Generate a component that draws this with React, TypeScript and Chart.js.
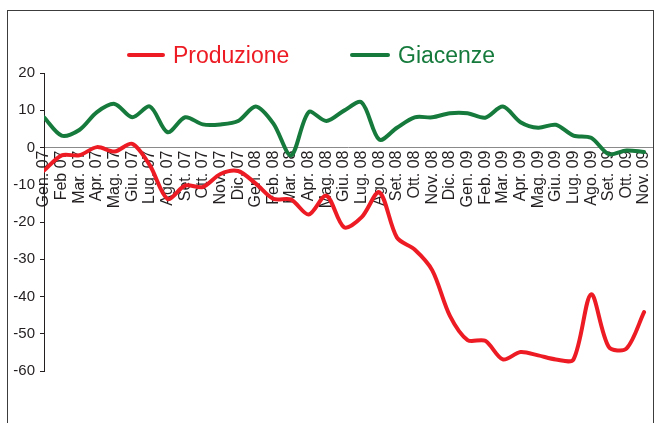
import { useEffect, useRef } from "react";
import { Chart, registerables } from "chart.js";

Chart.register(...registerables);

const months = [
  "Gen. 07", "Feb 07", "Mar. 07", "Apr. 07", "Mag. 07", "Giu. 07", "Lug. 07", "Ago. 07",
  "Set. 07", "Ott. 07", "Nov. 07", "Dic. 07", "Gen. 08", "Feb. 08", "Mar. 08", "Apr. 08",
  "Mag. 08", "Giu. 08", "Lug. 08", "Ago. 08", "Set. 08", "Ott. 08", "Nov. 08", "Dic. 08",
  "Gen. 09", "Feb. 09", "Mar. 09", "Apr. 09", "Mag. 09", "Giu. 09", "Lug. 09", "Ago. 09",
  "Set. 09", "Ott. 09", "Nov. 09",
];

const produzione = [
  -6.2, -2.1, -2.1, 0.1, -1.1, 1.0, -4.8, -13.8, -10.2, -10.6, -7.1, -6.3,
  -9.7, -13.8, -14.0, -18.0, -12.9, -21.4, -18.7, -12.0, -24.2, -27.4, -33.0, -45.2,
  -51.7, -51.9, -56.9, -54.9, -55.8, -56.9, -56.9, -39.4, -53.5, -54.0, -44.2,
];

const giacenze = [
  8.1, 3.2, 4.7, 9.5, 11.7, 8.1, 11.0, 4.1, 8.1, 6.2, 6.2, 7.1,
  11.0, 6.4, -2.1, 9.5, 7.1, 9.9, 12.1, 2.1, 5.3, 8.1, 8.1, 9.2,
  9.2, 8.0, 11.0, 6.8, 5.3, 6.1, 3.2, 2.6, -1.8, -0.8, -1.2,
];

const yMin = -60;
const yMax = 20;
const yStep = 10;

const RED = "#ed1c24";
const GREEN = "#157a3c";
const TEXT = "#231f20";
const FONT = "'Liberation Sans', Arial, sans-serif";

export default function App() {
  const ref = useRef<HTMLCanvasElement>(null);

  useEffect(() => {
    if (!ref.current) return;
    const chart = new Chart(ref.current, {
      type: "line",
      data: {
        datasets: [
          {
            label: "Produzione",
            data: produzione.map((v, i) => ({ x: i, y: v })),
            borderColor: RED,
            backgroundColor: RED,
            borderWidth: 4,
            pointRadius: 0,
            tension: 0.3,
            fill: false,
            borderJoinStyle: "round",
            borderCapStyle: "round",
            order: 0,
          },
          {
            label: "Giacenze",
            data: giacenze.map((v, i) => ({ x: i, y: v })),
            borderColor: GREEN,
            backgroundColor: GREEN,
            borderWidth: 4,
            pointRadius: 0,
            tension: 0.3,
            fill: false,
            borderJoinStyle: "round",
            borderCapStyle: "round",
            order: 1,
          },
        ],
      },
      options: {
        animation: false,
        responsive: true,
        maintainAspectRatio: false,
        layout: { padding: { left: 8, right: 2, top: 73, bottom: 52 } },
        plugins: { legend: { display: false }, tooltip: { enabled: false } },
        scales: {
          x: {
            type: "linear",
            min: 0,
            max: 34.45,
            position: { y: 0 } as any,
            grid: { display: false, drawTicks: false },
            border: { display: true, color: "#8a8a8a", width: 1 },
            ticks: {
              stepSize: 1,
              autoSkip: false,
              includeBounds: false,
              minRotation: 90,
              maxRotation: 90,
              padding: 3,
              color: TEXT,
              font: { family: FONT, size: 16 },
              callback: (v: any) => {
                const n = Number(v);
                return Number.isInteger(n) && months[n] ? months[n] : "";
              },
            },
            afterFit: (s: any) => {
              s.paddingLeft = 0;
              s.paddingRight = 0;
            },
          },
          y: {
            min: yMin,
            max: yMax,
            ticks: {
              stepSize: yStep,
              padding: 5,
              color: TEXT,
              font: { family: FONT, size: 15 },
            },
            grid: { drawOnChartArea: false, drawTicks: true, tickLength: 4, color: TEXT },
            border: { display: true, color: TEXT, width: 1 },
            afterFit: (s: any) => {
              s.width = 36;
            },
          },
        },
      },
    });
    return () => chart.destroy();
  }, []);

  const legendText: React.CSSProperties = {
    position: "absolute",
    top: 44,
    fontFamily: FONT,
    fontSize: 23,
    lineHeight: "23px",
    whiteSpace: "nowrap",
  };

  return (
    <div style={{ position: "fixed", left: 0, top: 0, width: 654, height: 423, background: "#fff", overflow: "hidden" }}>
      <div
        style={{
          position: "absolute",
          left: 7,
          top: 10,
          width: 645,
          height: 600,
          border: "1px solid #3c3c3c",
        }}
      />
      <div style={{ position: "absolute", left: 0, top: 0, width: 654, height: 423 }}>
        <canvas ref={ref} />
      </div>
      <div style={{ position: "absolute", left: 127, top: 53, width: 38, height: 4, background: RED, borderRadius: 2 }} />
      <div style={{ ...legendText, left: 173, color: RED }}>Produzione</div>
      <div style={{ position: "absolute", left: 350, top: 53, width: 40, height: 4, background: GREEN, borderRadius: 2 }} />
      <div style={{ ...legendText, left: 398, color: GREEN }}>Giacenze</div>
    </div>
  );
}
